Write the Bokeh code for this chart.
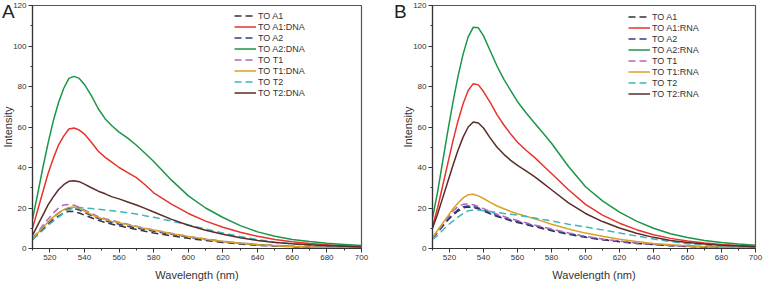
from bokeh.plotting import figure
from bokeh.layouts import row
from bokeh.models import Legend, LegendItem, FixedTicker, Div
from bokeh.embed import file_html
from bokeh.resources import INLINE

wavelength = [510, 513, 516, 519, 522, 525, 528, 531, 534, 537, 540, 544, 548, 552, 556, 560,
              565, 570, 575, 580, 590, 600, 610, 620, 630, 640, 650, 660, 670, 680, 690, 700]

# Panel A (DNA)
a_A1 = [4.5, 7, 9.5, 12, 14.3, 16, 17.5, 18.4, 18.3, 17.5, 16.5, 15.2, 13.9, 12.9, 12, 11.2,
        10.3, 9.4, 8.5, 7.7, 6.3, 5.0, 3.9, 3.0, 2.2, 1.6, 1.2, 0.9, 0.6, 0.5, 0.4, 0.3]
a_A1_DNA = [10, 19, 28, 37, 44.5, 51, 55.5, 59, 59.5, 58.5, 56.5, 52.5, 48, 45, 42.5, 40,
            37.5, 35, 31.5, 27.5, 22, 17.3, 13.5, 10.5, 8, 6, 4.4, 3.3, 2.5, 1.9, 1.4, 1.0]
a_A2 = [4.5, 7.5, 10.5, 13, 15.5, 17.5, 19, 19.9, 19.8, 19, 17.8, 16.2, 14.8, 13.7, 12.8, 12,
        11, 10.2, 9.3, 8.5, 7, 5.6, 4.4, 3.4, 2.6, 1.9, 1.4, 1.0, 0.7, 0.5, 0.4, 0.3]
a_A2_DNA = [14.5, 27, 40, 52, 63, 72, 79, 84, 85, 84, 81, 75.5, 69, 64, 60.5, 57.5,
            54.5, 51, 47, 43, 34, 26, 20, 15.3, 11.3, 8.2, 6, 4.5, 3.4, 2.6, 2, 1.5]
a_T1 = [5, 8, 11.5, 14.5, 17.5, 20, 21.5, 21.8, 21.4, 20.4, 19, 17.3, 15.7, 14.7, 13.8, 13,
        12, 11, 10, 9.2, 7.5, 6, 4.7, 3.6, 2.7, 2, 1.5, 1.1, 0.8, 0.6, 0.4, 0.3]
a_T1_DNA = [4.5, 7.5, 10.5, 13, 15.5, 17.5, 19.2, 20.3, 20.5, 19.8, 18.5, 16.8, 15.3, 14.3, 13.4, 12.7,
            11.7, 10.8, 9.9, 9.1, 7.4, 5.9, 4.6, 3.5, 2.6, 1.9, 1.4, 1, 0.7, 0.5, 0.4, 0.3]
a_T2 = [4.5, 6.5, 9, 11.5, 13.5, 15.5, 17.5, 19.2, 20, 20.2, 20, 19.7, 19.4, 19, 18.6, 18.2,
        17.6, 17, 16.2, 15.4, 13.6, 11.6, 9.6, 7.7, 5.9, 4.4, 3.2, 2.3, 1.6, 1.1, 0.8, 0.6]
a_T2_DNA = [6.5, 11.5, 16.5, 21.5, 25.5, 29, 31.5, 33.2, 33.5, 33, 31.8, 30, 28.3, 27, 25.5, 24.5,
            23, 21.5, 19.8, 18, 14.5, 11.5, 9, 7, 5.3, 4, 3, 2.3, 1.8, 1.4, 1.1, 0.8]

# Panel B (RNA)
b_A1 = [5, 8, 11, 14, 16.5, 18.5, 20, 20.5, 20.3, 19.5, 18.5, 17.1, 15.8, 14.8, 13.7, 12.8,
        11.8, 10.8, 9.8, 8.8, 7, 5.5, 4.3, 3.3, 2.5, 1.9, 1.4, 1.0, 0.7, 0.5, 0.4, 0.3]
b_A1_RNA = [11, 20, 31, 42, 53, 63, 71.5, 78, 81.4, 80.8, 77.5, 72, 66, 61, 56.5, 52.5,
            48.5, 45, 41, 37, 29, 21.8, 16.5, 12.5, 9.3, 6.8, 5, 3.7, 2.7, 2, 1.5, 1.1]
b_A2 = [5, 8, 11.5, 14.5, 17, 19.2, 20.6, 21, 20.8, 20, 19, 17.5, 16.2, 15.2, 14.2, 13.3,
        12.2, 11.2, 10.2, 9.2, 7.4, 5.8, 4.5, 3.5, 2.6, 2, 1.5, 1.1, 0.8, 0.6, 0.4, 0.3]
b_A2_RNA = [15, 28, 43, 58, 72, 85, 96, 104.5, 109.3, 109, 105, 97.5, 90, 83.5, 78, 72.5,
            67, 62, 57, 52, 40.5, 30.5, 23.5, 18, 13.5, 10, 7.3, 5.4, 4, 3, 2.2, 1.6]
b_T1 = [5, 8.5, 12, 15.5, 18.5, 20.7, 21.8, 22, 21.6, 20.7, 19.7, 18.3, 16.9, 15.8, 14.7, 13.8,
        12.7, 11.6, 10.6, 9.6, 7.7, 6, 4.7, 3.6, 2.7, 2, 1.5, 1.1, 0.8, 0.6, 0.4, 0.3]
b_T1_RNA = [5.5, 9, 12.5, 16, 19.5, 22.5, 25, 26.6, 26.8, 26, 24.7, 22.8, 21, 19.6, 18.3, 17.2,
            16, 14.7, 13.4, 12, 9.6, 7.6, 6, 4.6, 3.4, 2.5, 1.8, 1.3, 0.9, 0.7, 0.5, 0.4]
b_T2 = [4.5, 6.5, 9, 11.5, 13.5, 15.5, 17.3, 18.6, 19, 19, 18.7, 18.3, 17.8, 17.3, 16.9, 16.5,
        15.8, 15.1, 14.3, 13.6, 12, 10.6, 9.2, 7.7, 6.2, 4.7, 3.4, 2.4, 1.7, 1.2, 0.8, 0.6]
b_T2_RNA = [10, 17, 25, 33, 41, 48.5, 55, 60, 62.5, 62, 59.5, 54.5, 50, 46.5, 43.5, 41,
            38.3, 35.5, 32.3, 29, 22.5, 17.3, 13.3, 10.1, 7.5, 5.5, 4, 3, 2.2, 1.6, 1.2, 0.9]

x_ticks = [520, 540, 560, 580, 600, 620, 640, 660, 680, 700]
y_ticks = [0, 20, 40, 60, 80, 100, 120]

colors = ["#333333", "#e8332d", "#2e3f8f", "#1b9548", "#b266bd", "#d9a126", "#3fb5bb", "#5b2c28"]
dashed = [True, False, True, False, True, False, True, False]

FONT = "Liberation Sans"


def make_panel(series, names, width, border_left, border_right, border_top, border_bottom,
               leg_loc, shift):
    p = figure(width=width, height=283, x_range=(510, 700), y_range=(0, 120),
               output_backend="svg", toolbar_location=None,
               min_border_left=border_left, min_border_right=border_right,
               min_border_top=border_top, min_border_bottom=border_bottom,
               margin=(0, 0, 0, shift))
    p.xgrid.visible = False
    p.ygrid.visible = False
    p.outline_line_color = "#555555"
    p.outline_line_width = 1.2
    p.background_fill_color = "white"
    p.border_fill_alpha = 0

    for ax in (p.xaxis[0], p.yaxis[0]):
        ax.axis_line_color = "#333333"
        ax.axis_line_width = 1.2
        ax.major_tick_line_color = "#333333"
        ax.minor_tick_line_color = "#333333"
        ax.major_tick_in = 0
        ax.major_tick_out = 4
        ax.minor_tick_in = 0
        ax.minor_tick_out = 2
        ax.major_label_text_font = FONT
        ax.major_label_text_font_size = "8px"
        ax.major_label_text_color = "#333333"
        ax.major_label_standoff = 2
        ax.axis_label_text_font = FONT
        ax.axis_label_text_font_size = "11px"
        ax.axis_label_text_font_style = "normal"
        ax.axis_label_text_color = "#333333"

    p.xaxis[0].ticker = FixedTicker(ticks=x_ticks, minor_ticks=list(range(510, 701, 10)))
    p.yaxis[0].ticker = FixedTicker(ticks=y_ticks, minor_ticks=list(range(0, 121, 10)))
    p.xaxis[0].axis_label = "Wavelength (nm)"
    p.xaxis[0].axis_label_standoff = 6
    p.yaxis[0].axis_label = "Intensity"
    p.yaxis[0].axis_label_standoff = -4

    items = []
    for ys, name, c, d in zip(series, names, colors, dashed):
        r = p.line(wavelength, ys, line_color=c, line_width=1.5, line_join="round",
                   line_dash="7 4" if d else "solid")
        items.append(LegendItem(label=name, renderers=[r]))

    leg = Legend(items=items, location=leg_loc)
    leg.label_text_font = FONT
    leg.label_text_font_size = "9px"
    leg.label_text_color = "#333333"
    leg.glyph_width = 22
    leg.glyph_height = 11
    leg.label_height = 11
    leg.label_standoff = 2
    leg.spacing = 0
    leg.padding = 2
    leg.margin = 0
    leg.border_line_alpha = 0
    leg.background_fill_alpha = 0
    p.add_layout(leg)
    return p


def letter(text, left):
    html = ('<span style="font-family: \'Liberation Sans\'; font-size: 19px; '
            'color: #222222; line-height: 1;">%s</span>' % text)
    return Div(text=html, width=14, height=24, margin=(2, -(14 + left), 0, left),
               styles={"position": "relative", "z-index": "10"})


pA = make_panel([a_A1, a_A1_DNA, a_A2, a_A2_DNA, a_T1, a_T1_DNA, a_T2, a_T2_DNA],
                ["TO A1", "TO A1:DNA", "TO A2", "TO A2:DNA", "TO T1", "TO T1:DNA", "TO T2", "TO T2:DNA"],
                386, 36, 21, 4, 35, (200, 148), -4)
pB = make_panel([b_A1, b_A1_RNA, b_A2, b_A2_RNA, b_T1, b_T1_RNA, b_T2, b_T2_RNA],
                ["TO A1", "TO A1:RNA", "TO A2", "TO A2:RNA", "TO T1", "TO T1:RNA", "TO T2", "TO T2:RNA"],
                382, 50, 9, 5, 34, (194, 147), 0)

layout = row(letter("A", 2), pA, letter("B", 12), pB, spacing=0)
open("out.html", "w").write(file_html(layout, INLINE))
